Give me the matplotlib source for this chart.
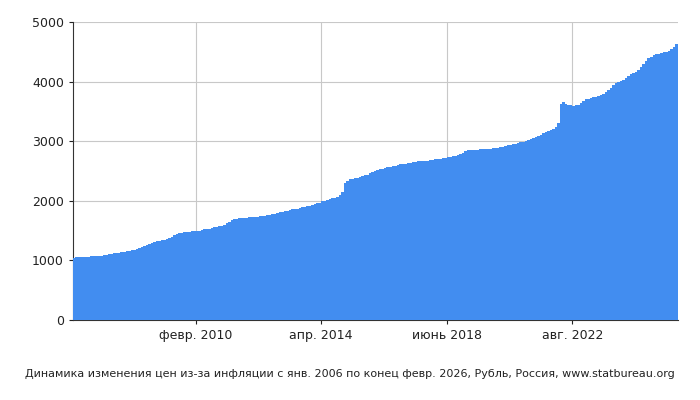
import matplotlib
matplotlib.use("Agg")
import matplotlib.pyplot as plt
import numpy as np

v2006 = [1040, 1050, 1055, 1058, 1060, 1062, 1065, 1066, 1068, 1072, 1076, 1082]
v2007 = [1090, 1098, 1104, 1110, 1116, 1122, 1128, 1134, 1140, 1150, 1160, 1168]
v2008 = [1180, 1195, 1210, 1230, 1250, 1265, 1280, 1295, 1310, 1320, 1328, 1335]
v2009 = [1345, 1360, 1380, 1400, 1420, 1440, 1455, 1465, 1472, 1478, 1482, 1486]
v2010 = [1490, 1495, 1500, 1510, 1520, 1528, 1535, 1545, 1555, 1562, 1570, 1580]
v2011 = [1600, 1620, 1650, 1675, 1690, 1700, 1705, 1710, 1712, 1715, 1720, 1725]
v2012 = [1730, 1735, 1740, 1745, 1750, 1755, 1765, 1775, 1785, 1795, 1805, 1815]
v2013 = [1825, 1835, 1845, 1855, 1862, 1870, 1880, 1890, 1900, 1910, 1920, 1930]
v2014 = [1940, 1955, 1970, 1990, 2005, 2015, 2030, 2045, 2055, 2070, 2095, 2150]
v2015 = [2300, 2340, 2360, 2370, 2380, 2390, 2400, 2410, 2425, 2440, 2460, 2480]
v2016 = [2500, 2515, 2530, 2540, 2550, 2560, 2570, 2580, 2590, 2600, 2610, 2620]
v2017 = [2625, 2630, 2640, 2645, 2650, 2660, 2665, 2670, 2672, 2675, 2680, 2690]
v2018 = [2695, 2700, 2705, 2710, 2720, 2730, 2740, 2750, 2760, 2770, 2780, 2800]
v2019 = [2840, 2850, 2855, 2858, 2860, 2860, 2862, 2862, 2865, 2868, 2872, 2878]
v2020 = [2885, 2890, 2900, 2910, 2920, 2930, 2940, 2950, 2960, 2970, 2980, 2990]
v2021 = [3000, 3015, 3030, 3050, 3070, 3090, 3110, 3130, 3150, 3165, 3180, 3200]
v2022 = [3230, 3300, 3620, 3650, 3630, 3610, 3600, 3595, 3600, 3615, 3640, 3680]
v2023 = [3700, 3715, 3725, 3735, 3750, 3765, 3780, 3800, 3830, 3860, 3900, 3940]
v2024 = [3970, 3990, 4010, 4030, 4060, 4090, 4120, 4140, 4160, 4200, 4250, 4300]
v2025 = [4350, 4390, 4420, 4440, 4455, 4465, 4480, 4490, 4500, 4520, 4550, 4580]
v2026 = [4630, 4660]

values = np.array(v2006 + v2007 + v2008 + v2009 + v2010 + v2011 + v2012 + v2013 + v2014 + v2015 +
                  v2016 + v2017 + v2018 + v2019 + v2020 + v2021 + v2022 + v2023 + v2024 + v2025 + v2026)
tick_pos = [49, 99, 149, 199]
tick_labels = ["февр. 2010", "апр. 2014", "июнь 2018", "авг. 2022"]

fig = plt.figure(figsize=(7, 4), dpi=100)
ax = fig.add_axes([0.104, 0.2, 0.864, 0.745])
x = np.arange(len(values))
ax.fill_between(x, values, 0, step="post", color="#428df0", lw=0, zorder=3)
ax.set_xlim(0, len(values) - 1)
ax.set_ylim(0, 5000)
ax.set_yticks([0, 1000, 2000, 3000, 4000, 5000])
ax.set_xticks(tick_pos)
ax.set_xticklabels(tick_labels)
ax.grid(True, color="#c8c8c8", lw=0.8, zorder=0)
for s in ["top", "right"]:
    ax.spines[s].set_visible(False)
ax.spines["left"].set_color("#333333")
ax.spines["bottom"].set_color("#333333")
ax.tick_params(labelsize=9, length=3, colors="#222222")
fig.text(0.5, 0.057, "Динамика изменения цен из-за инфляции с янв. 2006 по конец февр. 2026, Рубль, Россия, www.statbureau.org",
         ha="center", fontsize=8, color="#222222")
fig.savefig("out.png")
